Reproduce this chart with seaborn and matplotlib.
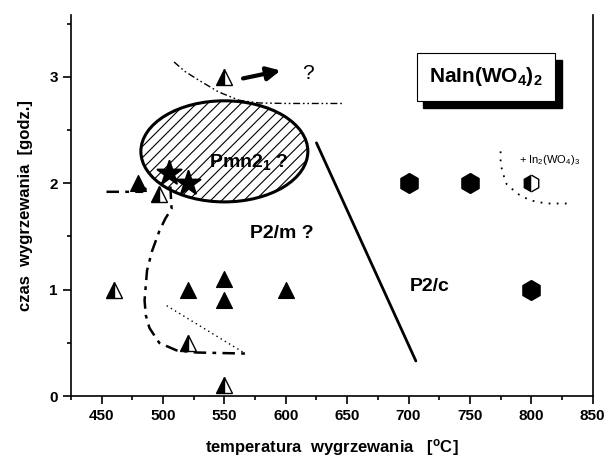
import numpy as np
import pandas as pd
import seaborn as sns
import matplotlib
matplotlib.use("Agg")
import matplotlib.pyplot as plt
from matplotlib.patches import Ellipse
from matplotlib.transforms import offset_copy

# punkty pomiarowe
tri_full_x = [480, 520, 550, 550, 600]
tri_full_y = [2.0, 1.0, 1.1, 0.9, 1.0]
tri_half_x = [460, 497, 550, 520, 550]
tri_half_y = [1.0, 1.9, 3.0, 0.5, 0.1]
star_x = [505, 520]
star_y = [2.1, 2.0]
hex_x = [700, 750, 800]
hex_y = [2.0, 2.0, 1.0]
hex_half_x = [800]
hex_half_y = [2.0]

# linie granic
top_curve_x = [509, 518, 529, 545, 562, 578, 600, 625, 647]
top_curve_y = [3.14, 3.05, 2.97, 2.86, 2.78, 2.755, 2.75, 2.75, 2.75]
left_h_x = [454, 483, 489]
left_h_y = [1.92, 1.92, 1.98]
left_curve_x = [506, 507, 502, 497, 491, 487, 485, 486, 489, 497, 511, 527, 567]
left_curve_y = [1.97, 1.76, 1.67, 1.55, 1.36, 1.18, 0.90, 0.76, 0.64, 0.50, 0.43, 0.41, 0.40]
low_dot_x = [503, 567]
low_dot_y = [0.85, 0.40]
right_dot_x = [775, 775, 777, 780, 789, 799, 812, 829]
right_dot_y = [2.30, 2.18, 2.09, 1.99, 1.90, 1.84, 1.81, 1.81]
border_x = [625, 706]
border_y = [2.38, 0.33]

xticks = [450, 500, 550, 600, 650, 700, 750, 800, 850]
yticks = [0, 1, 2, 3]

sns.set_style("ticks")
plt.rcParams['font.family'] = ['Liberation Sans', 'DejaVu Sans']
plt.rcParams['mathtext.default'] = 'regular'
plt.rcParams['hatch.linewidth'] = 0.8
for k in ['text.color', 'axes.labelcolor', 'xtick.color', 'ytick.color', 'axes.edgecolor']:
    plt.rcParams[k] = 'black'

fig, ax = plt.subplots(figsize=(6.06, 4.59), dpi=100)
fig.subplots_adjust(left=0.117, right=0.978, bottom=0.137, top=0.967)

# obszar Pmn21
ell = Ellipse((550, 2.30), 136, 0.95, facecolor='white', edgecolor='black',
              linewidth=2.2, hatch='///', zorder=1)
ax.add_patch(ell)

# linie
sns.lineplot(x=top_curve_x, y=top_curve_y, sort=False, estimator=None, ax=ax,
             color='black', linewidth=1.0, zorder=2).lines[-1].set_dashes([5, 2, 1.2, 2, 1.2, 2])
sns.lineplot(x=left_h_x, y=left_h_y, sort=False, estimator=None, ax=ax,
             color='black', linewidth=1.8, zorder=2).lines[-1].set_dashes([5, 2.5, 1.5, 2.5])
sns.lineplot(x=left_curve_x, y=left_curve_y, sort=False, estimator=None, ax=ax,
             color='black', linewidth=1.8, zorder=2).lines[-1].set_dashes([5, 2.5, 1.5, 2.5])
sns.lineplot(x=low_dot_x, y=low_dot_y, sort=False, estimator=None, ax=ax,
             color='black', linewidth=1.0, zorder=2).lines[-1].set_dashes([1, 2.5])
sns.lineplot(x=right_dot_x, y=right_dot_y, sort=False, estimator=None, ax=ax,
             color='black', linewidth=1.3, zorder=2).lines[-1].set_dashes([1, 3.5])
sns.lineplot(x=border_x, y=border_y, sort=False, estimator=None, ax=ax,
             color='black', linewidth=2.0, zorder=2)

# markery
sns.scatterplot(x=tri_full_x, y=tri_full_y, marker='^', s=130, color='black',
                edgecolor='black', ax=ax, zorder=4)
sns.scatterplot(x=star_x, y=star_y, marker='*', s=330, color='black',
                edgecolor='black', ax=ax, zorder=4)
sns.scatterplot(x=hex_x, y=hex_y, marker='h', s=200, color='black',
                edgecolor='black', ax=ax, zorder=4)
ax.plot(tri_half_x, tri_half_y, ls='none', marker='^', markersize=11, fillstyle='left',
        markerfacecolor='black', markerfacecoloralt='white', markeredgecolor='black',
        markeredgewidth=1.0, zorder=4)
ax.plot(hex_half_x, hex_half_y, ls='none', marker='h', markersize=12, fillstyle='left',
        markerfacecolor='black', markerfacecoloralt='white', markeredgecolor='black',
        markeredgewidth=1.0, zorder=4)

# strzalka i opisy
ax.annotate('', xy=(598, 3.065), xytext=(563, 2.98),
            arrowprops=dict(arrowstyle='-|>', color='black', lw=3, mutation_scale=20))
ax.text(618, 3.03, '?', fontsize=15, ha='center', va='center')
ax.text(570, 2.2, r'Pmn2$_1$ ?', fontsize=14, fontweight='bold', ha='center', va='center')
ax.text(597, 1.53, 'P2/m ?', fontsize=14, fontweight='bold', ha='center', va='center')
ax.text(717, 1.03, 'P2/c', fontsize=14, fontweight='bold', ha='center', va='center')
ax.text(790, 2.22, r'+ In$_2$(WO$_4$)$_3$', fontsize=8, ha='left', va='center')

label = r'NaIn(WO$_4$)$_2$'
shadow_tr = offset_copy(ax.transData, fig=fig, x=5, y=-5, units='points')
ax.text(763, 3.0, label, fontsize=15, fontweight='bold', ha='center', va='center',
        transform=shadow_tr, color='black',
        bbox=dict(boxstyle='square,pad=0.6', facecolor='black', edgecolor='black'), zorder=5)
ax.text(763, 3.0, label, fontsize=15, fontweight='bold', ha='center', va='center',
        bbox=dict(boxstyle='square,pad=0.6', facecolor='white', edgecolor='black', lw=0.8),
        zorder=6)

ax.set_xlim(425, 850)
ax.set_ylim(0, 3.58)
ax.set_xticks(xticks)
ax.set_yticks(yticks)
ax.set_xticks(np.arange(425, 851, 50), minor=True)
ax.set_yticks([0.5, 1.5, 2.5, 3.5], minor=True)
ax.tick_params(axis='both', which='major', direction='out', length=6, width=1.2,
               labelsize=11)
ax.tick_params(axis='both', which='minor', direction='out', length=3, width=1.2)
for lab in ax.get_xticklabels() + ax.get_yticklabels():
    lab.set_fontweight('bold')

ax.spines['top'].set_visible(False)
for side in ['left', 'right', 'bottom']:
    ax.spines[side].set_linewidth(1.2)

ax.set_xlabel('temperatura  wygrzewania   [$^{o}$C]', fontsize=12, fontweight='bold', labelpad=10)
ax.set_ylabel('czas  wygrzewania  [godz.]', fontsize=12, fontweight='bold', labelpad=12)

fig.savefig('out.png', dpi=100)
